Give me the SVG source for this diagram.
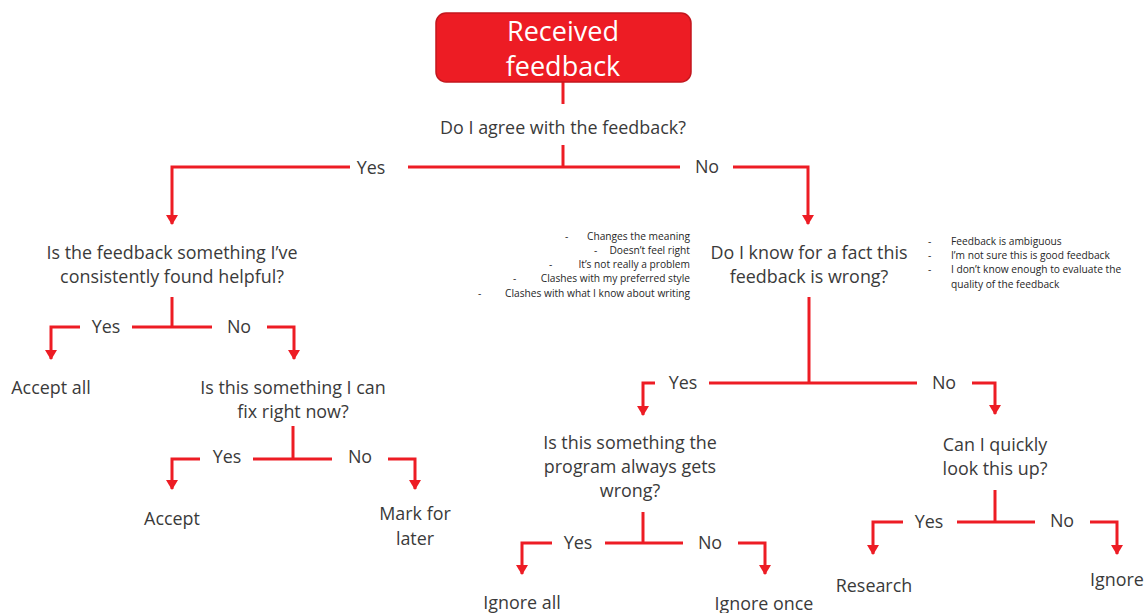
<svg xmlns="http://www.w3.org/2000/svg" width="1148" height="613" viewBox="0 0 1148 613">
<style>
.t{font-family:"Open Sans","Liberation Sans",sans-serif;font-size:17.9px;fill:#3a3a3a;text-anchor:middle}
.s{font-family:"Open Sans","Liberation Sans",sans-serif;font-size:10.2px;fill:#262626}
.r{text-anchor:end}
.w{font-family:"Open Sans","Liberation Sans",sans-serif;font-size:27px;fill:#fff;text-anchor:middle}
.c{fill:none;stroke:#ED1C24;stroke-width:3}
.a{marker-end:url(#ah)}
</style>
<defs>
<marker id="ah" markerUnits="userSpaceOnUse" markerWidth="12" markerHeight="10" viewBox="0 0 12 10" refX="6" refY="9" orient="0">
<path d="M0,0 L12,0 L6,10 Z" fill="#ED1C24"/>
</marker>
</defs>
<rect width="1148" height="613" fill="#fff"/>
<g id="connectors">
<path class="c" d="M563,82 V104"/>
<path class="c" d="M563,145 V167"/>
<path class="c a" d="M350,167 H172 V224"/>
<path class="c" d="M408,167 H680"/>
<path class="c a" d="M733,167 H808 V224"/>
<path class="c" d="M172,297 V327"/>
<path class="c" d="M132,327 H212"/>
<path class="c a" d="M80,327 H51 V359"/>
<path class="c a" d="M267,327 H294 V359"/>
<path class="c" d="M293,426 V459"/>
<path class="c" d="M253,459 H332"/>
<path class="c a" d="M200,459 H172 V489"/>
<path class="c a" d="M388,459 H415 V489"/>
<path class="c" d="M809,297 V383"/>
<path class="c" d="M709,383 H917"/>
<path class="c a" d="M655,383 H643 V415"/>
<path class="c a" d="M972,383 H995 V414"/>
<path class="c" d="M643,512 V543"/>
<path class="c" d="M605,543 H683"/>
<path class="c a" d="M552,543 H522 V574"/>
<path class="c a" d="M738,543 H765 V574"/>
<path class="c" d="M995,490 V522"/>
<path class="c" d="M957,522 H1035"/>
<path class="c a" d="M903,522 H873 V554"/>
<path class="c a" d="M1090,522 H1117 V554"/>
</g>
<g id="n_received">
<rect x="436" y="13" width="255" height="69" rx="10" fill="#ED1C24" stroke="#C3161D" stroke-width="1.5"/>
<text class="w" x="563" y="41">Received</text>
<text class="w" x="563" y="76">feedback</text>
</g>
<g id="n_agree"><text class="t" x="563" y="134">Do I agree with the feedback?</text></g>
<g id="l_yes1"><text class="t" x="371" y="174">Yes</text></g>
<g id="l_no1"><text class="t" x="707" y="173">No</text></g>
<g id="n_helpful">
<text class="t" x="172" y="259">Is the feedback something I’ve</text>
<text class="t" x="172" y="283">consistently found helpful?</text>
</g>
<g id="l_yes2"><text class="t" x="106" y="333">Yes</text></g>
<g id="l_no2"><text class="t" x="239" y="333">No</text></g>
<g id="n_acceptall"><text class="t" x="51" y="394">Accept all</text></g>
<g id="n_fix">
<text class="t" x="293" y="394">Is this something I can</text>
<text class="t" x="293" y="418">fix right now?</text>
</g>
<g id="l_yes3"><text class="t" x="227" y="463">Yes</text></g>
<g id="l_no3"><text class="t" x="360" y="463">No</text></g>
<g id="n_accept"><text class="t" x="172" y="525">Accept</text></g>
<g id="n_mark">
<text class="t" x="415" y="520">Mark for</text>
<text class="t" x="415" y="545">later</text>
</g>
<g id="n_notes_left" class="s">
<text x="565" y="240">-</text><text class="s r" x="690" y="240">Changes the meaning</text>
<text x="594" y="254">-</text><text class="s r" x="690" y="254">Doesn’t feel right</text>
<text x="549" y="268">-</text><text class="s r" x="690" y="268">It’s not really a problem</text>
<text x="513" y="282">-</text><text class="s r" x="690" y="282">Clashes with my preferred style</text>
<text x="478" y="297">-</text><text class="s r" x="690" y="297">Clashes with what I know about writing</text>
</g>
<g id="n_wrong">
<text class="t" x="809" y="259">Do I know for a fact this</text>
<text class="t" x="809" y="283">feedback is wrong?</text>
</g>
<g id="n_notes_right" class="s">
<text x="928" y="245">-</text><text x="951" y="245">Feedback is ambiguous</text>
<text x="928" y="259">-</text><text x="951" y="259">I’m not sure this is good feedback</text>
<text x="928" y="273">-</text><text x="951" y="273">I don’t know enough to evaluate the</text>
<text x="951" y="288">quality of the feedback</text>
</g>
<g id="l_yes4"><text class="t" x="683" y="389">Yes</text></g>
<g id="l_no4"><text class="t" x="944" y="389">No</text></g>
<g id="n_program">
<text class="t" x="630" y="449">Is this something the</text>
<text class="t" x="630" y="473">program always gets</text>
<text class="t" x="630" y="497">wrong?</text>
</g>
<g id="n_lookup">
<text class="t" x="995" y="451">Can I quickly</text>
<text class="t" x="995" y="475">look this up?</text>
</g>
<g id="l_yes5"><text class="t" x="578" y="549">Yes</text></g>
<g id="l_no5"><text class="t" x="710" y="549">No</text></g>
<g id="n_ignoreall"><text class="t" x="522" y="609">Ignore all</text></g>
<g id="n_ignoreonce"><text class="t" x="764" y="610">Ignore once</text></g>
<g id="l_yes6"><text class="t" x="929" y="528">Yes</text></g>
<g id="l_no6"><text class="t" x="1062" y="527">No</text></g>
<g id="n_research"><text class="t" x="874" y="592">Research</text></g>
<g id="n_ignore"><text class="t" x="1117" y="586">Ignore</text></g>
</svg>
